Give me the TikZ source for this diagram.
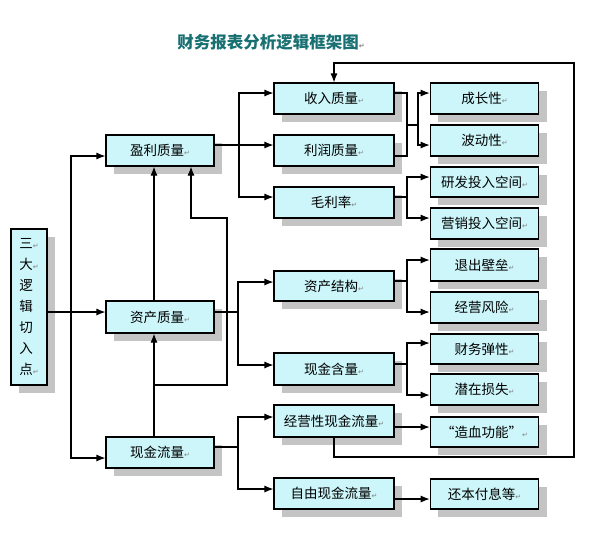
\documentclass[tikz,border=0pt]{standalone}
\usepackage{fontspec}
\setmainfont{Noto Sans CJK SC}
\newfontfamily\dejavu{DejaVu Sans}
\usetikzlibrary{arrows.meta,shadows,calc}
\definecolor{boxfill}{RGB}{204,246,250}
\definecolor{shadowgray}{RGB}{196,196,196}
\definecolor{titleteal}{RGB}{24,112,114}
\newcommand\retmark{{\dejavu\fontsize{7}{7}\selectfont\textcolor{gray}{↵}}}
\tikzset{
  box/.style={draw=black, line width=1.1pt, fill=boxfill, inner sep=0pt,
    minimum height=31pt, font=\fontsize{13.5}{15}\selectfont,
    drop shadow={shadow xshift=8pt, shadow yshift=-8pt, fill=shadowgray, opacity=1}},
  midbox/.style={box, minimum width=120pt},
  leftbox/.style={box, minimum width=108pt},
  rightbox/.style={box, minimum width=108.5pt},
  conn/.style={line width=1.1pt, draw=black},
  arr/.style={conn, -{Latex[length=9pt,width=7pt]}}
}
\begin{document}
\begin{tikzpicture}[x=1pt,y=-1pt]
\useasboundingbox (0,0) rectangle (608,550);
\fill[white] (0,0) rectangle (608,550);

\node[font=\fontsize{16.5}{16.5}\selectfont\bfseries, text=titleteal] (title) at (271,42) {财务报表分析逻辑框架图\retmark};

% left column
\node[box, minimum width=36pt, minimum height=156pt, align=left, font=\fontsize{13.5}{21}\selectfont] (sd) at (29,307)
  {三\retmark\\大\retmark\\逻\\辑\\切\\入\\点\retmark};
\node[leftbox] (ylzl) at (160,150.5) {盈利质量\retmark};
\node[leftbox, minimum height=32pt] (zczl) at (160,317) {资产质量\retmark};
\node[leftbox] (xjll) at (160,452.5) {现金流量\retmark};

% middle column
\node[midbox] (srzl) at (334,98.5) {收入质量\retmark};
\node[midbox] (lrzl) at (334,150.5) {利润质量\retmark};
\node[midbox] (mll) at (334,202.5) {毛利率\retmark};
\node[midbox, minimum height=30pt] (zcjg) at (334,286) {资产结构\retmark};
\node[midbox, minimum height=32pt] (xjhl) at (334,369) {现金含量\retmark};
\node[midbox, minimum height=32pt] (jyxj) at (334,421) {经营性现金流量\retmark};
\node[midbox] (zyxj) at (334,493.5) {自由现金流量\retmark};

% right column
\node[rightbox] (czx) at (484.5,98.5) {成长性\retmark};
\node[rightbox] (bdx) at (484.5,140.5) {波动性\retmark};
\node[rightbox, minimum height=30pt] (yf) at (484.5,182) {研发投入空间\retmark};
\node[rightbox] (yx) at (484.5,223.5) {营销投入空间\retmark};
\node[rightbox, minimum height=32pt] (tc) at (484.5,265) {退出壁垒\retmark};
\node[rightbox] (jyfx) at (484.5,307.5) {经营风险\retmark};
\node[rightbox, minimum height=30pt] (cwtx) at (484.5,349) {财务弹性\retmark};
\node[rightbox] (qzss) at (484.5,389.5) {潜在损失\retmark};
\node[rightbox, minimum height=30pt] (zxgn) at (484.5,432) {“造血功能”\retmark};
\node[rightbox, minimum height=30pt] (hbfx) at (484.5,494) {还本付息等\retmark};

% left trunk
\coordinate (zpin) at ([yshift=5pt]zczl.west);
\draw[arr] (sd.east |- zpin) -- (zpin);
\coordinate (lt) at (71,312);
\draw[arr] (lt) |- ([yshift=-5.5pt]ylzl.west);
\draw[arr] (lt) |- ([yshift=-5.5pt]xjll.west);

% profit quality
\coordinate (t1) at (239,145);
\draw[conn] (ylzl.east |- t1) -- (t1);
\draw[arr] (t1) |- ([yshift=5.5pt]srzl.west);
\draw[arr] (t1) -- (lrzl.west |- t1);
\draw[arr] (t1) |- ([yshift=5.5pt]mll.west);

% asset quality
\coordinate (t2) at (238,312);
\draw[conn] (zczl.east |- t2) -- (t2);
\draw[arr] (t2) |- ([yshift=4pt]zcjg.west);
\draw[arr] (t2) |- ([yshift=4pt]xjhl.west);

% cash flow
\coordinate (t3) at (238,447);
\draw[conn] (xjll.east |- t3) -- (t3);
\draw[arr] (t3) |- ([yshift=4pt]jyxj.west);
\draw[arr] (t3) |- ([yshift=4.5pt]zyxj.west);

% income & profit -> growth, volatility
\coordinate (a1) at (407,93);
\coordinate (a2) at (407,156);
\coordinate (a3) at (407,125);
\coordinate (a4) at (418,125);
\draw[conn] (srzl.east |- a1) -- (a1) -- (a2) -- (lrzl.east |- a2);
\draw[conn] (a3) -- (a4);
\draw[arr] (a4) |- ([yshift=5.5pt]czx.west);
\draw[arr] (a4) |- ([yshift=-4.5pt]bdx.west);

% gross margin
\coordinate (b1) at (407,197);
\draw[conn] (mll.east |- b1) -- (b1);
\draw[arr] (b1) |- ([yshift=5pt]yf.west);
\draw[arr] (b1) |- ([yshift=5.5pt]yx.west);

% asset structure
\coordinate (c1) at (407,281);
\draw[conn] (zcjg.east |- c1) -- (c1);
\draw[arr] (c1) |- ([yshift=5pt]tc.west);
\draw[arr] (c1) |- ([yshift=-4.5pt]jyfx.west);

% cash content
\coordinate (d1) at (407,364);
\draw[conn] (xjhl.east |- d1) -- (d1);
\draw[arr] (d1) |- ([yshift=6pt]cwtx.west);
\draw[arr] (d1) |- ([yshift=-5.5pt]qzss.west);

% operating cash flow / free cash flow
\coordinate (e1) at ([yshift=5pt]zxgn.west);
\draw[arr] (jyxj.east |- e1) -- (e1);
\coordinate (f1) at ([yshift=-5pt]hbfx.west);
\draw[arr] (zyxj.east |- f1) -- (f1);

% feedback loop
\coordinate (r1) at (574,457);
\coordinate (r2) at (574,63);
\draw[arr] (jyxj.south) |- (r1) -- (r2) -| (srzl.north);

% upward links
\draw[arr] ([xshift=-6pt]zczl.north) -- ([xshift=-6pt]ylzl.south);
\draw[arr] ([xshift=-6pt]xjll.north) -- ([xshift=-6pt]zczl.south);
\coordinate (g1) at (154,385);
\coordinate (g2) at (227,385);
\coordinate (g3) at (227,218);
\coordinate (g4) at (191,218);
\draw[arr] (g1) -- (g2) -- (g3) -- (g4) -- (ylzl.south -| g4);
\end{tikzpicture}
\end{document}
